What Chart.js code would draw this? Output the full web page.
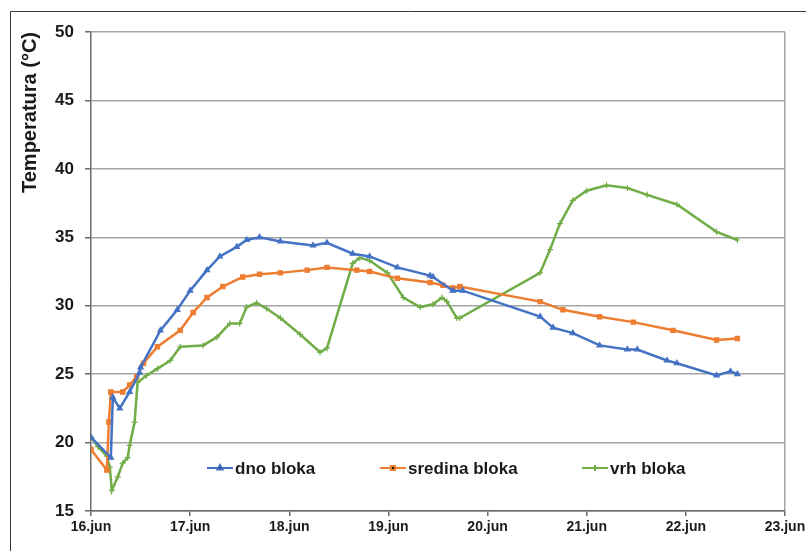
<!DOCTYPE html>
<html>
<head>
<meta charset="utf-8">
<script src="https://cdn.jsdelivr.net/npm/chart.js@4/dist/chart.umd.min.js"></script>
<style>
  body { margin: 0; background: #fff; }
  canvas { display: block; }
</style>
</head>
<body>
<canvas id="cvs_temperatura" width="806" height="551"></canvas>
<script>
// dani od 16.jun (0 = 16.jun)
const oznakeDana = ["16.jun", "17.jun", "18.jun", "19.jun", "20.jun", "21.jun", "22.jun", "23.jun"];

// dno bloka
const dnoDani = [0.00, 0.20, 0.22, 0.29, 0.39, 0.49, 0.50, 0.70, 0.87, 1.00, 1.17, 1.30, 1.47, 1.57, 1.70, 1.91, 2.24, 2.38, 2.64, 2.81, 3.09, 3.42, 3.45, 3.65, 3.75, 4.53, 4.66, 4.86, 5.13, 5.41, 5.51, 5.81, 5.91, 6.31, 6.45, 6.52];
const dnoTemp = [20.4, 18.9, 23.3, 22.5, 23.7, 25.1, 25.5, 28.2, 29.7, 31.1, 32.6, 33.6, 34.3, 34.8, 35.0, 34.7, 34.4, 34.6, 33.8, 33.6, 32.8, 32.2, 32.1, 31.1, 31.1, 29.2, 28.4, 28.0, 27.1, 26.8, 26.8, 26.0, 25.8, 24.9, 25.2, 25.0];

// sredina bloka
const sredinaDani = [0.00, 0.16, 0.18, 0.20, 0.32, 0.39, 0.46, 0.53, 0.67, 0.90, 1.03, 1.17, 1.33, 1.53, 1.70, 1.91, 2.18, 2.38, 2.68, 2.81, 3.09, 3.42, 3.55, 3.65, 3.72, 4.53, 4.76, 5.13, 5.47, 5.87, 6.31, 6.52];
const sredinaTemp = [19.5, 18.0, 21.5, 23.7, 23.7, 24.2, 24.8, 25.8, 27.0, 28.2, 29.5, 30.6, 31.4, 32.1, 32.3, 32.4, 32.6, 32.8, 32.6, 32.5, 32.0, 31.7, 31.5, 31.3, 31.4, 30.3, 29.7, 29.2, 28.8, 28.2, 27.5, 27.6];

// vrh bloka
const vrhDani = [0.00, 0.07, 0.16, 0.19, 0.21, 0.27, 0.32, 0.37, 0.39, 0.44, 0.47, 0.56, 0.67, 0.80, 0.90, 1.13, 1.27, 1.40, 1.50, 1.57, 1.67, 1.77, 1.91, 2.11, 2.31, 2.38, 2.64, 2.71, 2.81, 2.99, 3.15, 3.32, 3.45, 3.54, 3.59, 3.69, 3.72, 4.53, 4.63, 4.73, 4.86, 5.00, 5.20, 5.41, 5.61, 5.91, 6.31, 6.52];
const vrhTemp = [20.4, 19.7, 19.0, 18.2, 16.5, 17.5, 18.5, 18.9, 19.8, 21.5, 24.4, 24.9, 25.4, 26.0, 27.0, 27.1, 27.7, 28.7, 28.7, 29.9, 30.2, 29.8, 29.1, 27.9, 26.6, 26.9, 33.1, 33.5, 33.3, 32.4, 30.6, 29.9, 30.1, 30.6, 30.3, 29.1, 29.1, 32.4, 34.1, 36.0, 37.7, 38.4, 38.8, 38.6, 38.1, 37.4, 35.4, 34.8];

function spoji(dani, temp) {
  return dani.map(function (d, i) { return { x: d, y: temp[i] }; });
}

const FONT = "'Liberation Sans', Arial, sans-serif";

// okvir oko cijelog grafikona
const okvir = {
  id: "okvir",
  beforeDraw(chart) {
    const c = chart.ctx;
    c.save();
    c.strokeStyle = "#3a3a3a";
    c.lineWidth = 1;
    c.beginPath();
    c.moveTo(10.5, 600);
    c.lineTo(10.5, 11.5);
    c.lineTo(900, 11.5);
    c.stroke();
    c.restore();
  },
};

// legenda unutar podrucja grafikona
const legendaUnutra = {
  id: "legendaUnutra",
  afterDatasetsDraw(chart) {
    const c = chart.ctx;
    const a = chart.chartArea;
    const y = a.top + 436;
    const pocetci = [a.left + 116, a.left + 289, a.left + 491];
    c.save();
    chart.data.datasets.forEach(function (ds, i) {
      const x = pocetci[i];
      c.strokeStyle = ds.borderColor;
      c.lineWidth = 2;
      c.beginPath();
      c.moveTo(x, y);
      c.lineTo(x + 26, y);
      c.stroke();
      Chart.helpers.drawPoint(c, { pointStyle: ds.pointStyle, radius: 3, rotation: 0, borderWidth: 1 }, x + 13, y);
      c.fillStyle = "#1a1a1a";
      c.font = "bold 17px " + FONT;
      c.textBaseline = "middle";
      c.fillText(ds.label, x + 28, y + 1);
    });
    c.restore();
  },
};

function serija(naziv, podaci, boja, stil) {
  return {
    label: naziv,
    data: podaci,
    borderColor: boja,
    backgroundColor: boja,
    borderWidth: 2.5,
    pointStyle: stil,
    pointRadius: 3,
    pointBorderWidth: 1.2,
    tension: 0,
  };
}

new Chart(document.getElementById("cvs_temperatura"), {
  type: "line",
  data: {
    datasets: [
      serija("dno bloka", spoji(dnoDani, dnoTemp), "#4472C4", "triangle"),
      serija("sredina bloka", spoji(sredinaDani, sredinaTemp), "#ED7D31", "rect"),
      serija("vrh bloka", spoji(vrhDani, vrhTemp), "#70AD47", "cross"),
    ],
  },
  options: {
    responsive: false,
    animation: false,
    layout: { padding: { left: 18, top: 32, right: 21, bottom: 0 } },
    plugins: {
      legend: { display: false },
      tooltip: { enabled: false },
    },
    scales: {
      x: {
        type: "linear",
        min: 0,
        max: 7,
        afterFit(s) { s.height = 40; s.paddingLeft = 0; s.paddingRight = 0; },
        ticks: {
          stepSize: 1,
          padding: 3,
          color: "#1a1a1a",
          font: { family: FONT, size: 14, weight: "bold" },
          callback: function (v) { return oznakeDana[v]; },
        },
        grid: {
          color: function (c) { return c.index === oznakeDana.length - 1 ? "#a6a6a6" : "rgba(0,0,0,0)"; },
          lineWidth: 1.5,
          tickColor: "#6b6b6b",
          tickLength: 5,
        },
        border: { color: "#6b6b6b", width: 1.5 },
      },
      y: {
        min: 15,
        max: 50,
        afterFit(s) { s.width = 73; s.paddingTop = 0; s.paddingBottom = 0; },
        title: {
          display: true,
          text: "Temperatura (°C)",
          align: "end",
          color: "#1a1a1a",
          padding: { top: 0, bottom: 0 },
          font: { family: FONT, size: 20, weight: "bold" },
        },
        ticks: {
          stepSize: 5,
          padding: 11,
          color: "#1a1a1a",
          font: { family: FONT, size: 17, weight: "bold" },
        },
        grid: {
          color: "#a6a6a6",
          lineWidth: 1.5,
          tickColor: "#6b6b6b",
          tickLength: 6,
        },
        border: { color: "#6b6b6b", width: 1.5 },
      },
    },
  },
  plugins: [okvir, legendaUnutra],
});
</script>
</body>
</html>
